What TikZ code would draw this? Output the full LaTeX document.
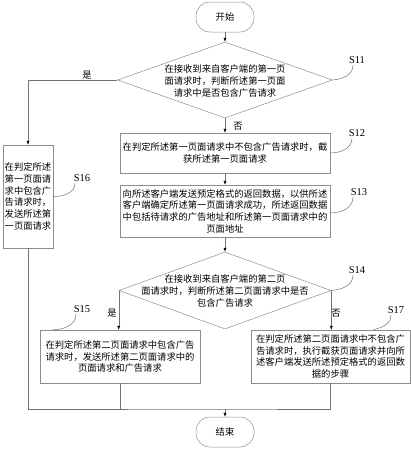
\documentclass[tikz,border=0pt]{standalone}
\usepackage{fontspec}
\setmainfont{Noto Sans CJK SC}
\newfontfamily\labfont{Liberation Serif}
\usetikzlibrary{shapes.geometric,arrows.meta}
\begin{document}
\begin{tikzpicture}[x=1pt,y=-1pt,
  every node/.style={font=\fontsize{9.3}{11.7}\selectfont},
  ln/.style={draw=black!55,line width=0.5pt},
  arr/.style={ln,-{Latex[length=4pt,width=3.2pt,black]}},
  box/.style={draw=black!45,line width=0.5pt,rectangle,inner sep=0pt,align=center},
  term/.style={box,rounded corners=14pt,minimum width=58pt,minimum height=30pt},
  dia/.style={draw=black!45,line width=0.5pt,diamond,inner sep=0pt},
  txt/.style={align=center,inner sep=0pt},
  stp/.style={font=\labfont\fontsize{10.5}{12}\selectfont,inner sep=0pt},
  lead/.style={draw=black!55,line width=0.5pt}]
\useasboundingbox (0,0) rectangle (411,450);

% terminals
\node[term] (start) at (225,17) {开始};
\node[term] (end) at (225,432) {结束};

% decisions
\node[dia,minimum width=215pt,minimum height=76pt] (d1) at (225,80) {};
\node[txt] (t1) at (225,81) {在接收到来自客户端的第一页\\面请求时，判断所述第一页面\\请求中是否包含广告请求};
\node[dia,minimum width=212pt,minimum height=77pt] (d2) at (225,290.5) {};
\node[txt] (t2) at (225,291) {在接收到来自客户端的第二页\\面请求时，判断所述第二页面请求中是否\\包含广告请求};

% process boxes
\node[box,minimum width=210pt,minimum height=40pt] (s12) at (225,153)
  {在判定所述第一页面请求中不包含广告请求时，截\\获所述第一页面请求};
\node[box,minimum width=210pt,minimum height=52pt] (s13) at (225,211)
  {向所述客户端发送预定格式的返回数据，以供所述\\客户端确定所述第一页面请求成功，所述返回数据\\中包括待请求的广告地址和所述第一页面请求中的\\页面地址};
\node[box,minimum width=50pt,minimum height=103pt] (s16) at (28,196.5)
  {在判定所述\\第一页面请\\求中包含广\\告请求时，\\发送所述第\\一页面请求};
\node[box,minimum width=160pt,minimum height=53pt] (s15) at (120,356.5)
  {在判定所述第二页面请求中包含广告\\请求时，发送所述第二页面请求中的\\页面请求和广告请求};
\node[box,minimum width=159pt,minimum height=53pt] (s17) at (330.5,356.5)
  {在判定所述第二页面请求中不包含广\\告请求时，执行截获页面请求并向所\\述客户端发送所述预定格式的返回数\\据的步骤};

% connectors
\draw[arr] (start.south) -- (d1.north);
\draw[arr] (d1.south) -- (s12.north);
\draw[arr] (s12.south) -- (s13.north);
\draw[arr] (s13.south) -- (d2.north);
\draw[arr] (d1.west) -| (s16.north);
\draw[arr] (d2.west) -- (d2.west |- s15.north);
\draw[arr] (d2.east) -- (d2.east |- s17.north);
\coordinate (m) at (225,409);
\draw[ln] (s16.south) |- (m) -| (s17.south);
\draw[ln] (s15.south) -- (s15.south |- m);
\draw[arr] (m) -- (end.north);

% yes / no labels
\node[txt] (y1) at (87,75) {是};
\node[txt] (n1) at (238,126) {否};
\node[txt] (y2) at (112,313) {是};
\node[txt] (n2) at (336,313) {否};

% step labels and leaders
\node[stp] (l11) at (357,60) {S11};
\node[stp] (l12) at (357,133) {S12};
\node[stp] (l13) at (359,192) {S13};
\node[stp] (l16) at (82,178) {S16};
\node[stp] (l14) at (357,270) {S14};
\node[stp] (l15) at (82,309) {S15};
\node[stp] (l17) at (396,310) {S17};

\draw[lead] (d1.east) to[out=5,in=-90] ([xshift=-4pt,yshift=-1.5pt]l11.south);
\draw[lead] (s12.east) to[out=0,in=-90] ([xshift=-5pt,yshift=-1.5pt]l12.south);
\draw[lead] ([yshift=-2pt]s13.east) to[out=0,in=-90] ([xshift=-6pt,yshift=-1.5pt]l13.south);
\draw[lead] (s16.east) to[out=0,in=-90] ([xshift=-7pt,yshift=-1.5pt]l16.south);
\draw[lead] (d2.east) to[out=5,in=-90] ([xshift=-4pt,yshift=-1.5pt]l14.south);
\draw[lead] ([xshift=13pt]s15.north west) to[out=0,in=-90] ([xshift=-6pt,yshift=-1.5pt]l15.south);
\draw[lead] ([xshift=43pt]s17.north) to[out=15,in=-90] ([xshift=-5pt,yshift=-1.5pt]l17.south);
\end{tikzpicture}
\end{document}
